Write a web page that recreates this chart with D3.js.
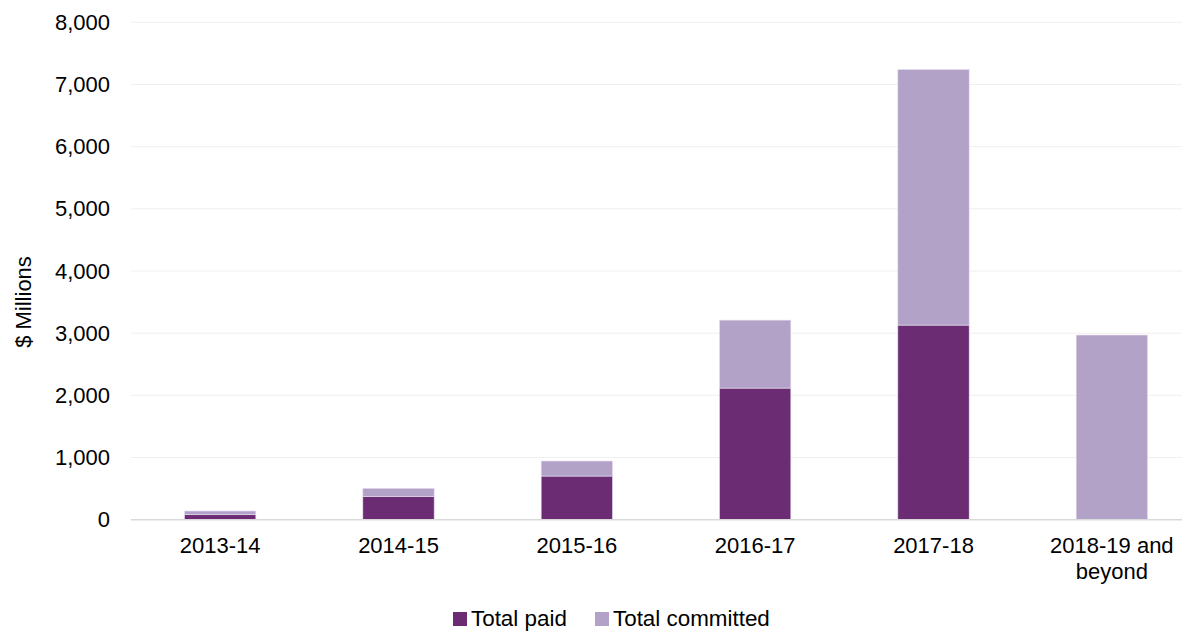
<!DOCTYPE html>
<html>
<head>
<meta charset="utf-8">
<script src="https://cdn.jsdelivr.net/npm/d3@7"></script>
<style>
  html, body { margin: 0; padding: 0; background: #fff; }
  svg { display: block; font-family: Arial, "Liberation Sans", sans-serif; }
</style>
</head>
<body>
<svg id="chart" width="1182" height="631"></svg>
<script>
const categories = ["2013-14", "2014-15", "2015-16", "2016-17", "2017-18", "2018-19 and beyond"];
const categoryLines = [["2013-14"], ["2014-15"], ["2015-16"], ["2016-17"], ["2017-18"], ["2018-19 and", "beyond"]];
const totalPaid = [80, 370, 702, 2117, 3130, 0];
const totalCommitted = [60, 135, 242, 1093, 4111, 2970];
const seriesNames = ["Total paid", "Total committed"];
const seriesColors = ["#6b2c74", "#b3a2c8"];
const yTicks = [0, 1000, 2000, 3000, 4000, 5000, 6000, 7000, 8000];

const svg = d3.select("#chart");
const x = d3.scaleBand().domain(categories).range([131, 1201]).paddingInner(0.6).paddingOuter(0.3);
const y = d3.scaleLinear().domain([0, 8000]).range([519.7, 22.3]);

// gridlines
svg.append("g").selectAll("line").data(yTicks.filter(d => d > 0)).join("line")
  .attr("x1", 131).attr("x2", 1201)
  .attr("y1", d => y(d)).attr("y2", d => y(d))
  .attr("stroke", "#efefef").attr("stroke-width", 1);

// y axis labels
const yAxis = d3.axisLeft(y).tickValues(yTicks).tickFormat(d3.format(",")).tickSize(0).tickPadding(0);
const yg = svg.append("g").attr("transform", "translate(110,0)").call(yAxis);
yg.select(".domain").remove();
yg.selectAll("text").attr("font-size", 22).attr("fill", "#000").attr("font-family", "Arial, 'Liberation Sans', sans-serif");

// stacked bars
const rows = categories.map((c, i) => ({cat: c, paid: totalPaid[i], committed: totalCommitted[i]}));
const stack = d3.stack().keys(["paid", "committed"]);
const stacked = stack(rows);
svg.append("g").selectAll("g").data(stacked).join("g")
  .attr("fill", (d, i) => seriesColors[i])
  .selectAll("rect").data(d => d).join("rect")
  .attr("x", d => x(d.data.cat))
  .attr("width", x.bandwidth())
  .attr("y", d => y(d[1]))
  .attr("height", d => Math.max(0, y(d[0]) - y(d[1])))
  .attr("stroke", "#e6dff0").attr("stroke-width", 0.6);

// baseline
svg.append("line").attr("x1", 131).attr("x2", 1201)
  .attr("y1", y(0)).attr("y2", y(0))
  .attr("stroke", "#d9d9d9").attr("stroke-width", 1.5);

// x labels
const xl = svg.append("g").selectAll("text").data(categories).join("text")
  .attr("x", d => x(d) + x.bandwidth() / 2)
  .attr("y", 553.3)
  .attr("text-anchor", "middle")
  .attr("font-size", 22).attr("fill", "#000");
xl.each(function(d, i) {
  const t = d3.select(this);
  categoryLines[i].forEach((line, j) => {
    t.append("tspan").attr("x", x(d) + x.bandwidth() / 2).attr("dy", j === 0 ? 0 : 25.5).text(line);
  });
});

// y title
svg.append("text")
  .attr("transform", "translate(31,302) rotate(-90)")
  .attr("text-anchor", "middle")
  .attr("font-size", 22).attr("fill", "#000")
  .text("$ Millions");

// legend
const legendX = [453, 595];
const lg = svg.append("g").selectAll("g").data(seriesNames).join("g")
  .attr("transform", (d, i) => `translate(${legendX[i]},0)`);
lg.append("rect").attr("x", 0).attr("y", 612).attr("width", 14).attr("height", 14)
  .attr("fill", (d, i) => seriesColors[i]);
lg.append("text").attr("x", 18).attr("y", 625.5).attr("font-size", 22.4).attr("fill", "#000").text(d => d);
</script>
</body>
</html>
